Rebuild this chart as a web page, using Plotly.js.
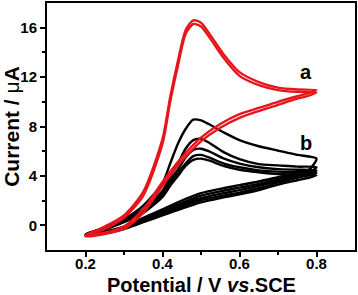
<!DOCTYPE html>
<html>
<head>
<meta charset="utf-8">
<script src="https://cdn.plot.ly/plotly-3.0.1.min.js"></script>
<style>html,body{margin:0;padding:0;background:#fff;}#chart{width:358px;height:295px;}</style>
</head>
<body>
<div id="chart"></div>
<script>
// Potential grids (V): forward (anodic) sweep and reverse sweep
const potentialForward = [0.2,0.25,0.3,0.35,0.4,0.42,0.44,0.46,0.48,0.5,0.52,0.56,0.6,0.65,0.7,0.75,0.8];
const potentialReverse = [0.8,0.78,0.75,0.7,0.65,0.6,0.55,0.5,0.45,0.4,0.35,0.3,0.25,0.2];

// Curve a (red), two cycles, current in µA
const redCycle1Forward = [-0.8,-0.1,0.8,2.7,7.0,10.4,13.3,15.8,16.6,16.4,15.6,13.8,12.4,11.6,11.15,11.0,10.95];
const redCycle1Reverse = [10.95,10.7,10.45,10.0,9.5,9.0,8.2,7.1,5.5,3.5,1.3,-0.1,-0.6,-0.8];
const redCycle2Forward = [-0.9,-0.3,0.6,2.4,6.6,10.0,12.9,15.5,16.3,16.1,15.3,13.5,12.1,11.35,10.95,10.8,10.75];
const redCycle2Reverse = [10.75,10.5,10.25,9.75,9.25,8.7,7.9,6.8,5.2,3.2,1.0,-0.3,-0.7,-0.9];

// Curve b (black), five cycles
const blackCycle1Forward = [-0.7,-0.2,0.5,1.6,3.4,5.0,6.6,7.8,8.55,8.5,8.2,7.5,6.9,6.4,6.05,5.7,5.4];
const blackCycle1Reverse = [5.4,4.5,4.25,3.9,3.55,3.25,2.95,2.6,2.0,1.3,0.6,-0.1,-0.5,-0.7];
const blackCycle2Forward = [-0.75,-0.25,0.4,1.3,2.8,3.9,5.0,6.2,6.9,7.0,6.7,5.9,5.35,4.95,4.85,4.75,4.7];
const blackCycle2Reverse = [4.7,4.3,4.1,3.75,3.35,3.05,2.75,2.4,1.8,1.15,0.45,-0.15,-0.55,-0.75];
const blackCycle3Forward = [-0.8,-0.3,0.35,1.2,2.6,3.6,4.5,5.5,6.1,6.2,6.0,5.4,5.0,4.7,4.55,4.5,4.45];
const blackCycle3Reverse = [4.45,4.2,4.0,3.6,3.2,2.85,2.55,2.2,1.65,1.0,0.35,-0.2,-0.6,-0.8];
const blackCycle4Forward = [-0.8,-0.3,0.3,1.1,2.4,3.4,4.2,5.0,5.6,5.7,5.5,5.0,4.7,4.45,4.35,4.3,4.25];
const blackCycle4Reverse = [4.25,4.05,3.85,3.45,3.0,2.65,2.35,2.05,1.5,0.9,0.3,-0.25,-0.6,-0.8];
const blackCycle5Forward = [-0.85,-0.35,0.25,1.0,2.3,3.2,4.0,4.8,5.3,5.4,5.25,4.8,4.5,4.3,4.15,4.1,4.05];
const blackCycle5Reverse = [4.05,3.85,3.65,3.3,2.85,2.5,2.2,1.85,1.35,0.8,0.25,-0.3,-0.65,-0.85];

// Axis ticks
const xTickVals = [0.2,0.4,0.6,0.8];
const xTickText = ['0.2','0.4','0.6','0.8'];
const xMinorVals = [0.3,0.5,0.7];
const yTickVals = [0,4,8,12,16];
const yTickText = ['0','4','8','12','16'];
const yMinorVals = [2,6,10,14];

// Curve labels
const curveLabels = ['a','b'];
const curveLabelX = [0.773,0.773];
const curveLabelY = [12.4,6.7];

function cycleTrace(fwd, rev, color){
  return {
    x: potentialForward.concat(potentialReverse.slice(1)),
    y: fwd.concat(rev.slice(1)),
    mode: 'lines',
    line: {color: color, width: 2.4, shape: 'spline', smoothing: 0.7},
    hoverinfo: 'skip',
    showlegend: false
  };
}

const BLACK = '#000000';
const RED = '#e8141c';
const traces = [
  cycleTrace(blackCycle5Forward, blackCycle5Reverse, BLACK),
  cycleTrace(blackCycle4Forward, blackCycle4Reverse, BLACK),
  cycleTrace(blackCycle3Forward, blackCycle3Reverse, BLACK),
  cycleTrace(blackCycle2Forward, blackCycle2Reverse, BLACK),
  cycleTrace(blackCycle1Forward, blackCycle1Reverse, BLACK),
  cycleTrace(redCycle1Forward, redCycle1Reverse, RED),
  cycleTrace(redCycle2Forward, redCycle2Reverse, RED)
];

const FONT = 'Arial, "Liberation Sans", sans-serif';
const axisCommon = {
  showgrid: false, zeroline: false,
  showline: true, linecolor: '#000', linewidth: 2, mirror: true,
  ticks: 'outside', ticklen: 5, tickwidth: 2, tickcolor: '#000',
  tickmode: 'array',
  tickfont: {family: FONT, size: 15, color: '#000', weight: 'bold'}
};

const layout = {
  width: 358, height: 295,
  margin: {l: 47, r: 3, t: 3, b: 45},
  paper_bgcolor: '#fff', plot_bgcolor: '#fff',
  xaxis: Object.assign({}, axisCommon, {
    range: [0.1, 0.9],
    tickvals: xTickVals, ticktext: xTickText,
    ticklabelstandoff: -6,
    minor: {tickmode: 'array', tickvals: xMinorVals, ticks: 'outside', ticklen: 3, tickwidth: 2, tickcolor: '#000'}
  }),
  yaxis: Object.assign({}, axisCommon, {
    range: [-2, 18],
    tickvals: yTickVals, ticktext: yTickText,
    minor: {tickmode: 'array', tickvals: yMinorVals, ticks: 'outside', ticklen: 3, tickwidth: 2, tickcolor: '#000'},
    title: {text: 'Current / <span style="font-weight:normal">μ</span>A', font: {family: FONT, size: 21, color: '#000', weight: 'bold'}, standoff: 4}
  }),
  annotations: curveLabels.map((t, i) => ({
    x: curveLabelX[i], y: curveLabelY[i], xref: 'x', yref: 'y',
    text: t, showarrow: false,
    font: {family: FONT, size: 20, color: '#000', weight: 'bold'}
  })).concat([{
    // x-axis title, placed below the tick labels
    x: 0.5, y: 0, xref: 'paper', yref: 'paper',
    xanchor: 'center', yanchor: 'middle', yshift: -35, borderpad: 0,
    text: 'Potential / V <i>vs</i>.SCE', showarrow: false,
    font: {family: FONT, size: 20, color: '#000', weight: 'bold'}
  }])
};

Plotly.newPlot('chart', traces, layout, {staticPlot: true, displayModeBar: false});
</script>
</body>
</html>
